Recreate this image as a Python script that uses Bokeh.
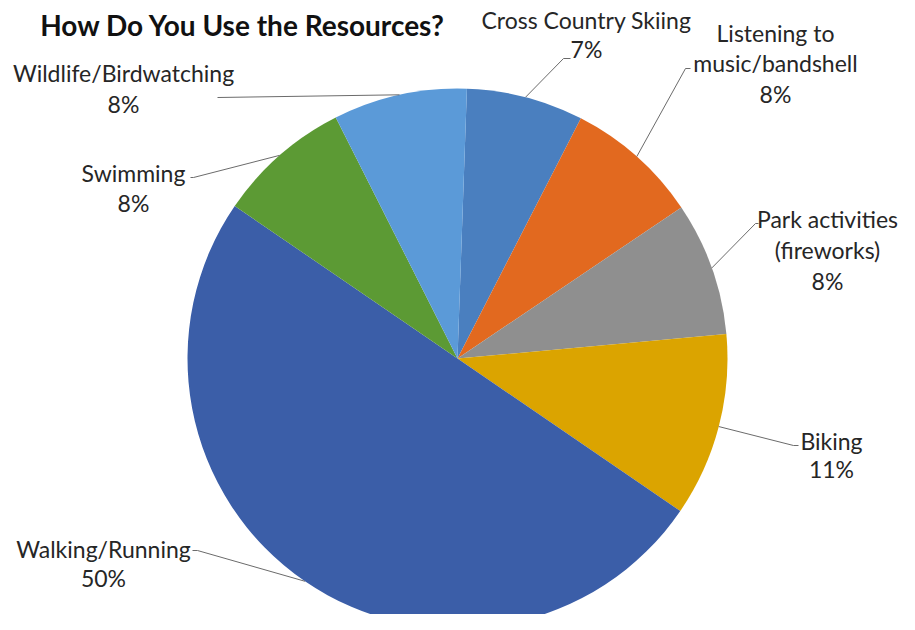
import numpy as np
from bokeh.plotting import figure
from bokeh.models import Range1d, ColumnDataSource
from bokeh.core.properties import value
from bokeh.embed import file_html
from bokeh.resources import INLINE

# ---- data ----
categories = ["Cross Country Skiing", "Listening to music/bandshell",
              "Park activities (fireworks)", "Biking", "Walking/Running",
              "Swimming", "Wildlife/Birdwatching"]
percent = [7, 8, 8, 11, 50, 8, 8]
title_text = "How Do You Use the Resources?"

# ---- styles / layout ----
colors = ["#4a7fbf", "#e2691f", "#8f8f8f", "#dba400", "#3b5ea8", "#5c9a34", "#5b9ad8"]
label_lines = [["Cross Country Skiing"], ["Listening to", "music/bandshell"],
               ["Park activities", "(fireworks)"], ["Biking"], ["Walking/Running"],
               ["Swimming"], ["Wildlife/Birdwatching"]]
# picture coordinates (px) of label centre (x, first line y) and line spacing
label_pos = [(586, 19, 29), (775, 32, 30.5), (827, 218, 31), (831, 440, 28),
             (103, 548, 29), (133, 172, 30), (123, 72, 31)]
# leader elbow and end points (picture px)
leader_pts = [((563, 58), (570, 58)), ((685, 68), (690, 68)), ((755, 223), (758, 223)),
              ((793, 445), (798, 445)), ((197, 550), (192, 550)), ((193, 177), (190, 177)),
              ((217, 97), (217, 97))]

W, H = 899, 614
def px(x): return x
def py(y): return H - y

cx, cy, R = px(457), py(358), 270
offset = 2.0  # degrees clockwise from 12 o'clock

p = figure(width=W, height=H, x_range=Range1d(0, W), y_range=Range1d(0, H),
           output_backend="svg", toolbar_location=None, min_border=0,
           x_axis_type=None, y_axis_type=None)
p.grid.visible = False
p.outline_line_color = None
p.background_fill_color = "white"
p.border_fill_color = "white"

vals = np.array(percent, dtype=float)
cum = np.cumsum(vals) / vals.sum() * 360.0
theta2 = offset + cum
theta1 = offset + np.concatenate([[0.0], cum[:-1]])
src = ColumnDataSource(dict(cat=categories, start=np.radians(90 - theta2),
                            end=np.radians(90 - theta1), color=colors))
p.wedge(x=cx, y=cy, radius=R, start_angle="start", end_angle="end",
        fill_color="color", line_color=None, source=src)

# leader lines
mid = np.radians((theta1 + theta2) / 2)
xs, ys = [], []
for i, m in enumerate(mid):
    sx, sy = cx + R * np.sin(m), cy + R * np.cos(m)
    (ex1, ey1), (ex2, ey2) = leader_pts[i]
    xs.append([sx, px(ex1), px(ex2)])
    ys.append([sy, py(ey1), py(ey2)])
p.multi_line(xs=xs, ys=ys, line_color="#6b6b6b", line_width=1)

# labels
tx, ty, tt = [], [], []
for i, lines in enumerate(label_lines):
    lx, ly, sp = label_pos[i]
    allines = lines + [f"{percent[i]}%"]
    for k, t in enumerate(allines):
        tx.append(px(lx)); ty.append(py(ly + k * sp)); tt.append(t)
p.text(x=tx, y=ty, text=tt, text_font=value("Lato"), text_font_size="23px",
       text_color="#262626", text_align="center", text_baseline="middle")

# title
p.text(x=[px(445)], y=[py(24)], text=[title_text], text_font=value("Lato"),
       text_font_size="28px", text_font_style="bold", text_color="#111111",
       text_align="right", text_baseline="alphabetic")

open("out.html", "w").write(file_html(p, INLINE))
